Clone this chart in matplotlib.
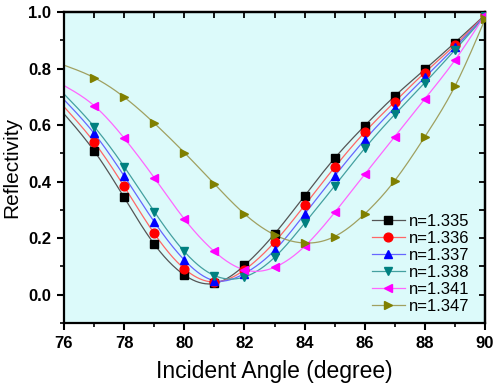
import numpy as np
import matplotlib
matplotlib.use("Agg")
import matplotlib.pyplot as plt
from matplotlib.ticker import MultipleLocator

angles = [77, 78, 79, 80, 81, 82, 83, 84, 85, 86, 87, 88, 89, 90]
labels = ["n=1.335", "n=1.336", "n=1.337", "n=1.338", "n=1.341", "n=1.347"]
r_1335 = [0.509, 0.344, 0.179, 0.070, 0.040, 0.104, 0.215, 0.350, 0.483, 0.598, 0.703, 0.797, 0.892, 0.990]
r_1336 = [0.540, 0.383, 0.217, 0.092, 0.045, 0.088, 0.186, 0.316, 0.451, 0.575, 0.683, 0.786, 0.883, 0.990]
r_1337 = [0.571, 0.420, 0.258, 0.123, 0.050, 0.075, 0.157, 0.285, 0.420, 0.548, 0.662, 0.769, 0.875, 0.988]
r_1338 = [0.595, 0.453, 0.294, 0.153, 0.068, 0.063, 0.132, 0.253, 0.385, 0.518, 0.638, 0.750, 0.866, 0.985]
r_1341 = [0.669, 0.554, 0.414, 0.268, 0.153, 0.088, 0.097, 0.171, 0.291, 0.426, 0.559, 0.693, 0.830, 0.990]
r_1347 = [0.768, 0.699, 0.607, 0.503, 0.392, 0.286, 0.212, 0.183, 0.206, 0.286, 0.404, 0.559, 0.738, 0.975]
# value of each fitted curve at the left edge (76 degrees), no marker there
curve_start_angle = 76
curve_start = [0.640, 0.665, 0.690, 0.710, 0.740, 0.812]

series = [r_1335, r_1336, r_1337, r_1338, r_1341, r_1347]
colors = ["black", "red", "blue", "#008080", "magenta", "#808000"]
line_colors = ["#555555", "#ff6666", "#6666ff", "#44a0a0", "#ff66ff", "#a0a060"]
markers = ["s", "o", "^", "v", "<", ">"]


def natural_spline(x, y, xs):
    x = np.asarray(x, float); y = np.asarray(y, float)
    n = len(x)
    h = np.diff(x)
    A = np.zeros((n, n)); b = np.zeros(n)
    A[0, 0] = 1; A[-1, -1] = 1
    for i in range(1, n - 1):
        A[i, i - 1] = h[i - 1]
        A[i, i] = 2 * (h[i - 1] + h[i])
        A[i, i + 1] = h[i]
        b[i] = 3 * ((y[i + 1] - y[i]) / h[i] - (y[i] - y[i - 1]) / h[i - 1])
    c = np.linalg.solve(A, b)
    bb = (np.diff(y) / h) - h * (2 * c[:-1] + c[1:]) / 3
    d = np.diff(c) / (3 * h)
    idx = np.clip(np.searchsorted(x, xs) - 1, 0, n - 2)
    dx = xs - x[idx]
    return y[idx] + bb[idx] * dx + c[idx] * dx ** 2 + d[idx] * dx ** 3


plt.rcParams['font.family'] = ['Liberation Sans', 'DejaVu Sans']
fig = plt.figure(figsize=(4.98, 3.88), dpi=100)
ax = fig.add_axes([0.1285, 0.1675, 0.8455, 0.8015])
ax.set_facecolor("#dcfafa")

xs = np.linspace(76, 90, 400)
for vals, start, c, lc, m, lab in zip(series, curve_start, colors, line_colors, markers, labels):
    xfull = [curve_start_angle] + angles
    yfull = [start] + vals
    ys = natural_spline(xfull, yfull, xs)
    ax.plot(xs, ys, color=lc, lw=0.9, zorder=2)
    ax.plot(angles, vals, linestyle="none", marker=m, color=c, ms=6.3, zorder=3)
    ax.plot([], [], color=lc, lw=0.9, marker=m, mfc=c, mec=c, ms=6.3, label=lab)

ax.set_xlim(76, 90)
ax.set_ylim(-0.1, 1.0)
ax.xaxis.set_major_locator(MultipleLocator(2))
ax.xaxis.set_minor_locator(MultipleLocator(1))
ax.yaxis.set_major_locator(MultipleLocator(0.2))
ax.yaxis.set_minor_locator(MultipleLocator(0.1))
ax.set_yticks([0.0, 0.2, 0.4, 0.6, 0.8, 1.0])
ax.tick_params(which="major", direction="out", length=5, width=1.5, labelsize=12, pad=4)
ax.tick_params(which="minor", direction="out", length=3, width=1.2)
for lbl in ax.get_xticklabels() + ax.get_yticklabels():
    lbl.set_fontweight("bold")

secx = ax.secondary_xaxis("top")
secx.xaxis.set_major_locator(MultipleLocator(1))
secx.tick_params(direction="in", length=4, width=1.3, labeltop=False)
secy = ax.secondary_yaxis("right")
secy.yaxis.set_major_locator(MultipleLocator(0.1))
secy.tick_params(direction="in", length=4, width=1.3, labelright=False)
for s in [secx.spines["top"], secy.spines["right"]]:
    s.set_linewidth(1.6)
for s in ax.spines.values():
    s.set_linewidth(1.6)

ax.set_xlabel("Incident Angle (degree)", fontsize=16.5, labelpad=7)
ax.set_ylabel("Reflectivity", fontsize=15, labelpad=5)

leg = ax.legend(loc="lower right", frameon=False, fontsize=12, handlelength=2.0,
                handletextpad=0.25, labelspacing=0.12, borderaxespad=0.15,
                bbox_to_anchor=(0.985, 0.0))

fig.savefig("out.png", dpi=100)
